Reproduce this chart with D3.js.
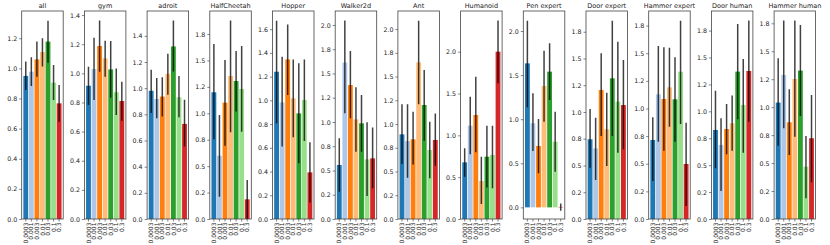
<!DOCTYPE html>
<html>
<head>
<meta charset="utf-8">
<script src="https://cdn.jsdelivr.net/npm/d3@7"></script>
<style>
  body { margin: 0; background: #fff; }
  text { font-family: "DejaVu Sans", sans-serif; }
</style>
</head>
<body>
<svg id="chart" width="830" height="245"></svg>
<script>
var titles = ["all", "gym", "adroit", "HalfCheetah", "Hopper", "Walker2d", "Ant", "Humanoid",
              "Pen expert", "Door expert", "Hammer expert", "Door human", "Hammer human"];
var lrLabels = ["0.0003", "0.001", "0.003", "0.01", "0.03", "0.1", "0.3"];
var colors = ["#1f77b4", "#aec7e8", "#ff7f0e", "#ffbb78", "#2ca02c", "#98df8a", "#d62728"];

var means = [
  [0.95, 0.978, 1.06, 1.109, 1.178, 0.905, 0.768],
  [0.915, 1.03, 1.188, 1.103, 1.027, 0.87, 0.81],
  [0.98, 0.918, 0.936, 1.11, 1.319, 0.931, 0.727],
  [1.199, 0.599, 1.101, 1.353, 1.306, 1.23, 0.186],
  [1.241, 0.983, 1.345, 1.017, 0.89, 1.003, 0.393],
  [0.557, 1.612, 1.381, 1.027, 0.986, 0.615, 0.625],
  [0.891, 0.821, 0.839, 1.649, 1.2, 0.726, 0.832],
  [0.677, 1.116, 1.243, 0.454, 0.745, 0.765, 2.0],
  [1.633, 0.953, 0.696, 1.376, 1.539, 0.745, 0.005],
  [0.745, 0.66, 1.206, 0.838, 1.315, 1.097, 1.065],
  [0.715, 1.128, 1.086, 1.191, 1.083, 1.333, 0.498],
  [0.827, 0.688, 0.836, 0.889, 1.369, 1.059, 1.375],
  [1.041, 1.288, 0.865, 1.252, 1.327, 0.468, 0.722]
];
var errLow = [
  [0.857, 0.883, 0.945, 1.012, 1.038, 0.79, 0.646],
  [0.783, 0.817, 1.011, 0.977, 0.833, 0.714, 0.675],
  [0.81, 0.77, 0.783, 0.949, 1.128, 0.778, 0.554],
  [0.754, 0.211, 0.694, 0.82, 1.016, 0.826, -0.05],
  [0.806, 0.61, 1.045, 0.688, 0.469, 0.657, 0.14],
  [0.282, 1.089, 1.038, 0.694, 0.694, 0.237, 0.316],
  [0.579, 0.435, 0.575, 1.207, 0.825, 0.428, 0.561],
  [0.506, 0.773, 0.797, 0.179, 0.375, 0.367, 1.622],
  [1.134, 0.639, 0.386, 0.972, 1.217, 0.405, -0.038],
  [0.48, 0.364, 0.776, 0.495, 0.776, 0.62, 0.651],
  [0.344, 0.70, 0.618, 0.835, 0.70, 0.86, 0.118],
  [0.471, 0.26, 0.601, 0.635, 0.926, 0.616, 0.904],
  [0.656, 0.811, 0.572, 0.736, 0.921, 0.185, 0.328]
];
var errHigh = [
  [1.045, 1.074, 1.178, 1.2, 1.317, 1.023, 0.89],
  [1.046, 1.245, 1.362, 1.224, 1.222, 1.034, 0.943],
  [1.14, 1.077, 1.084, 1.263, 1.518, 1.094, 0.911],
  [1.656, 0.984, 1.505, 1.877, 1.59, 1.637, 0.369],
  [1.671, 1.368, 1.64, 1.345, 1.312, 1.345, 0.646],
  [0.832, 2.045, 1.732, 1.357, 1.278, 0.997, 0.942],
  [1.207, 1.207, 1.13, 2.088, 1.568, 1.025, 1.112],
  [0.845, 1.462, 1.701, 0.745, 1.116, 1.116, 2.371],
  [2.117, 1.293, 1.002, 1.777, 1.86, 1.085, 0.045],
  [1.028, 0.947, 1.548, 1.181, 1.854, 1.657, 1.486],
  [0.92, 1.565, 1.553, 1.55, 1.463, 1.794, 0.872],
  [1.192, 0.935, 1.068, 1.146, 1.812, 1.487, 1.843],
  [1.437, 1.774, 1.16, 1.774, 1.735, 0.742, 1.109]
];
var yMin = [0, 0, 0, 0, 0, 0, 0, 0, -0.132, 0, 0, 0, 0];
var yMax = [1.381, 1.428, 1.59, 1.968, 1.753, 2.144, 2.19, 2.486, 2.227, 1.944, 1.882, 1.932, 1.86];

var ticks02 = [0, 0.2, 0.4, 0.6, 0.8, 1.0, 1.2, 1.4, 1.6];
var ticks025 = [0, 0.25, 0.5, 0.75, 1.0, 1.25, 1.5, 1.75, 2.0];
var ticks05 = [0, 0.5, 1.0, 1.5, 2.0];
var labels02 = ["0.0", "0.2", "0.4", "0.6", "0.8", "1.0", "1.2", "1.4", "1.6"];
var labels025 = ["0.0", "0.2", "0.5", "0.8", "1.0", "1.2", "1.5", "1.8", "2.0"];
var labels05 = ["0.0", "0.5", "1.0", "1.5", "2.0"];
var tickSet = ["02", "02", "02", "025", "02", "025", "025", "05", "05", "025", "025", "025", "025"];

var svg = d3.select("#chart");
var left0 = 21.7, step = 62.7, pw = 41.5;
var plotTop = 11, plotBottom = 219;

titles.forEach(function(title, p) {
  var g = svg.append("g").attr("transform", "translate(" + (left0 + p * step) + ",0)");

  var x = d3.scaleBand().domain(lrLabels).range([0, pw]).paddingInner(0.13).paddingOuter(0.3);
  var y = d3.scaleLinear().domain([yMin[p], yMax[p]]).range([plotBottom, plotTop]);

  var tv = tickSet[p] == "02" ? ticks02 : (tickSet[p] == "025" ? ticks025 : ticks05);
  var tl = tickSet[p] == "02" ? labels02 : (tickSet[p] == "025" ? labels025 : labels05);
  tv = tv.filter(function(t) { return t <= yMax[p]; });

  g.append("clipPath").attr("id", "clip" + p)
    .append("rect").attr("x", 0).attr("y", plotTop).attr("width", pw).attr("height", plotBottom - plotTop);

  var plot = g.append("g").attr("clip-path", "url(#clip" + p + ")");

  plot.selectAll("rect.bar")
    .data(means[p])
    .enter().append("rect")
    .attr("class", "bar")
    .attr("x", function(d, i) { return x(lrLabels[i]); })
    .attr("width", x.bandwidth())
    .attr("y", function(d) { return y(Math.max(0, d)); })
    .attr("height", function(d) { return Math.abs(y(0) - y(d)); })
    .attr("fill", function(d, i) { return colors[i]; });

  plot.selectAll("line.err")
    .data(means[p])
    .enter().append("line")
    .attr("x1", function(d, i) { return x(lrLabels[i]) + x.bandwidth() / 2; })
    .attr("x2", function(d, i) { return x(lrLabels[i]) + x.bandwidth() / 2; })
    .attr("y1", function(d, i) { return y(errLow[p][i]); })
    .attr("y2", function(d, i) { return y(errHigh[p][i]); })
    .attr("stroke", "#000")
    .attr("stroke-opacity", 0.75)
    .attr("stroke-width", 1.5);

  // frame
  g.append("rect")
    .attr("x", 0).attr("y", plotTop).attr("width", pw).attr("height", plotBottom - plotTop)
    .attr("fill", "none").attr("stroke", "#444").attr("stroke-width", 0.8);

  var ya = g.append("g")
    .call(d3.axisLeft(y).tickValues(tv).tickSize(2.5).tickPadding(2)
      .tickFormat(function(d, i) { return tl[i]; }));
  ya.select(".domain").remove();
  ya.selectAll("line").attr("stroke", "#333").attr("stroke-width", 0.6);
  ya.selectAll("text").attr("font-size", "6.3px").attr("fill", "#222")
    .attr("font-family", "DejaVu Sans, sans-serif");

  var xa = g.append("g")
    .attr("transform", "translate(0," + plotBottom + ")")
    .call(d3.axisBottom(x).tickSize(2.5).tickPadding(1));
  xa.select(".domain").remove();
  xa.selectAll("line").attr("stroke", "#333").attr("stroke-width", 0.6);
  xa.selectAll("text")
    .attr("font-size", "6px").attr("fill", "#222")
    .attr("font-family", "DejaVu Sans, sans-serif")
    .attr("transform", "rotate(-90)")
    .attr("text-anchor", "end")
    .attr("x", -3.5).attr("y", 0).attr("dy", "0.35em");

  g.append("text")
    .attr("x", pw / 2).attr("y", 8)
    .attr("text-anchor", "middle")
    .attr("font-size", "6.5px").attr("fill", "#222")
    .text(title);
});
</script>
</body>
</html>
